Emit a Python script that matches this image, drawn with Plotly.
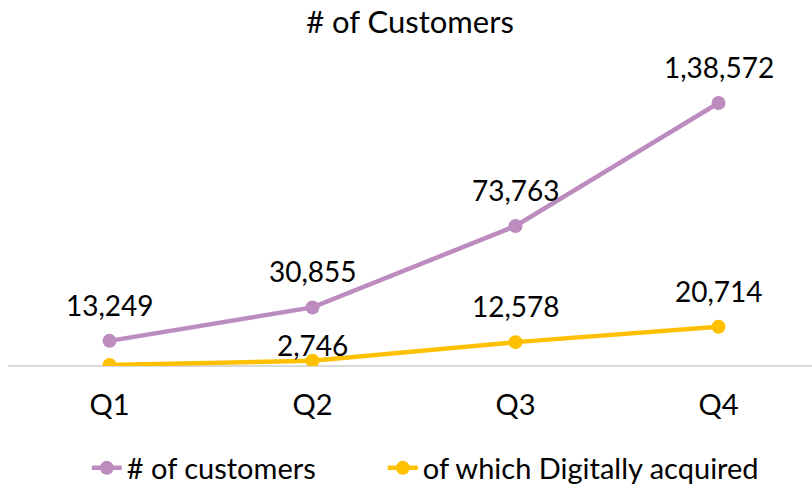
import plotly.graph_objects as go

quarters = ["Q1", "Q2", "Q3", "Q4"]
customers = [13249, 30855, 73763, 138572]
digital = [500, 2746, 12578, 20714]
digital_labelled = [False, True, True, True]

PURPLE = "#BC8CBF"
YELLOW = "#FFC000"
FONT = "Lato, 'Open Sans', sans-serif"


def indian(n):
    s = str(int(n))
    if len(s) <= 3:
        return s
    last3 = s[-3:]
    rest = s[:-3]
    parts = []
    while len(rest) > 2:
        parts.insert(0, rest[-2:])
        rest = rest[:-2]
    if rest:
        parts.insert(0, rest)
    return ",".join(parts) + "," + last3


fig = go.Figure()
fig.add_trace(go.Scatter(
    x=quarters, y=customers, name="# of customers", mode="lines+markers",
    line=dict(color=PURPLE, width=4.5), marker=dict(size=14, color=PURPLE),
    legendwidth=251,
))
fig.add_trace(go.Scatter(
    x=quarters, y=digital, name="of which Digitally acquired", mode="lines+markers",
    line=dict(color=YELLOW, width=4.5), marker=dict(size=14, color=YELLOW),
))

annotations = []
for q, v in zip(quarters, customers):
    annotations.append(dict(x=q, y=v, text=indian(v), showarrow=False,
                            yshift=36, font=dict(size=28, color="#000000", family=FONT)))
for i, (q, v, show) in enumerate(zip(quarters, digital, digital_labelled)):
    if not show:
        continue
    shift = 16 if i == 1 else 36
    annotations.append(dict(x=q, y=v, text=indian(v), showarrow=False,
                            yshift=shift, font=dict(size=28, color="#000000", family=FONT)))

fig.update_layout(
    width=812, height=486,
    margin=dict(l=8, r=0, t=50, b=120),
    paper_bgcolor="white", plot_bgcolor="white",
    hovermode=False,
    font=dict(family=FONT, color="#000000", size=28),
    title=dict(text="# of Customers", x=0.5, xanchor="center", xref="paper",
               y=1 - 22 / 486, yanchor="middle",
               font=dict(size=31, family=FONT, color="#000000")),
    xaxis=dict(range=[-0.5, 3.4606], showgrid=False, zeroline=False,
               showline=False, ticks="", tickfont=dict(size=29, family=FONT),
               ticklabelstandoff=19),
    yaxis=dict(range=[0, 166500], showgrid=False, zeroline=True, zerolinecolor="#D9D9D9",
               zerolinewidth=1.5, showticklabels=False, showline=False, ticks=""),
    legend=dict(orientation="h", x=0.098, xanchor="left",
                yref="container", y=1 - 468 / 486, yanchor="middle",
                font=dict(size=29, family=FONT)),
    annotations=annotations,
    showlegend=True,
)

fig.write_html("out.html", config={"displayModeBar": False},
               post_script="document.body.style.margin='0';")
